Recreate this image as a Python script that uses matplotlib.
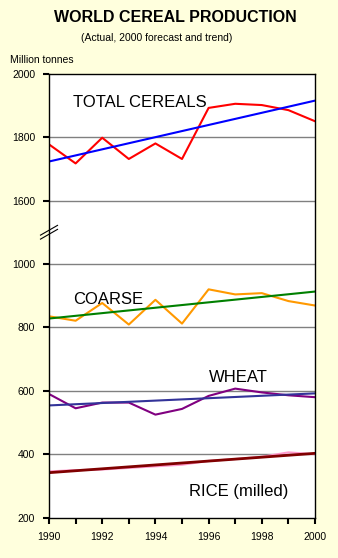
import numpy as np
import matplotlib
matplotlib.use('Agg')
import matplotlib.pyplot as plt

plt.rcParams['font.family'] = ['Liberation Sans', 'DejaVu Sans']

years = [1990, 1991, 1992, 1993, 1994, 1995, 1996, 1997, 1998, 1999, 2000]

total_actual = [1777, 1717, 1798, 1731, 1780, 1731, 1892, 1905, 1901, 1885, 1850]
total_trend = [1723, 1915]

coarse_actual = [835, 821, 877, 809, 887, 812, 920, 904, 908, 883, 869]
coarse_trend = [828, 913]

wheat_actual = [590, 545, 563, 563, 525, 543, 584, 607, 595, 586, 580]
wheat_trend = [554, 592]

rice_actual = [346, 350, 352, 357, 362, 367, 379, 385, 392, 406, 400]
rice_trend = [342, 403]

# the axis is broken between 1000 and 1600, so totals are shifted down by 400
shift = 400
ytick_pos = [200, 400, 600, 800, 1000, 1200, 1400, 1600]
ytick_labels = ['200', '400', '600', '800', '1000', '1600', '1800', '2000']

bg = '#FFFFDD'

fig = plt.figure(figsize=(3.38, 5.58), dpi=100, facecolor=bg)
ax = fig.add_axes([0.145, 0.0722, 0.787, 0.7958])
ax.set_facecolor('white')

trend_x = [years[0], years[-1]]

ax.plot(years, np.array(total_actual) - shift, color='#FF0000', lw=1.5)
ax.plot(trend_x, np.array(total_trend) - shift, color='#0000FF', lw=1.5)

ax.plot(years, coarse_actual, color='#FF9900', lw=1.5)
ax.plot(trend_x, coarse_trend, color='#008000', lw=1.5)

ax.plot(years, wheat_actual, color='#800080', lw=1.5)
ax.plot(trend_x, wheat_trend, color='#333399', lw=1.5)

ax.plot(years, rice_actual, color='#FF99CC', lw=1.5)
ax.plot(trend_x, rice_trend, color='#800000', lw=2)

ax.set_xlim(1990, 2000)
ax.set_ylim(200, 1600)

ax.set_yticks(ytick_pos)
ax.set_yticklabels(ytick_labels)
ax.set_xticks(years)
ax.set_xticklabels([str(y) if y % 2 == 0 else '' for y in years])
ax.tick_params(axis='both', direction='out', length=4, width=1.5,
               labelsize=7.5, pad=6)

for y in [400, 600, 800, 1000, 1200, 1400]:
    ax.axhline(y, color='#808080', lw=1, zorder=0)

for s in ax.spines.values():
    s.set_color('black')
    s.set_linewidth(1)

# axis break mark: two short parallel slashes across the left spine
by = (1100 - 200) / 1400
for off in (-0.0045, 0.0045):
    ax.plot([-0.032, 0.032], [by - 0.011 + off, by + 0.011 + off],
            transform=ax.transAxes, color='black', lw=0.8,
            clip_on=False, zorder=6)

ax.text(1990.9, 1909 - shift, 'TOTAL CEREALS', fontsize=12, va='center')
ax.text(1990.9, 887, 'COARSE', fontsize=12, va='center')
ax.text(1996.0, 643, 'WHEAT', fontsize=12, va='center')
ax.text(1995.25, 283, 'RICE (milled)', fontsize=12, va='center')

fig.text(0.52, 0.968, 'WORLD CEREAL PRODUCTION', ha='center', va='center',
         fontsize=11.5, fontweight='bold')
fig.text(0.465, 0.932, '(Actual, 2000 forecast and trend)', ha='center',
         va='center', fontsize=7.5)
fig.text(0.03, 0.893, 'Million tonnes', ha='left', va='center', fontsize=7.5)

fig.savefig('out.png', dpi=100, facecolor=bg)
